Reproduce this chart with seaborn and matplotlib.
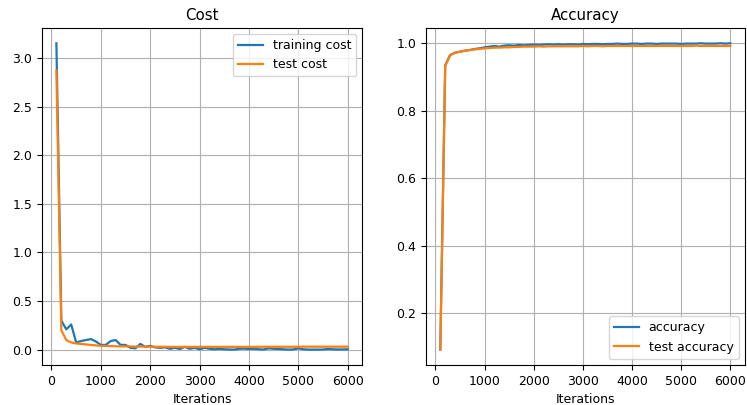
import matplotlib
matplotlib.use("Agg")
import matplotlib.pyplot as plt
import seaborn as sns

iterations = list(range(100, 6001, 100))

training_cost = [3.15, 0.30, 0.21, 0.26, 0.075, 0.09, 0.10, 0.11, 0.085, 0.05,
                 0.05, 0.09, 0.10, 0.05, 0.05, 0.02, 0.015, 0.06, 0.03, 0.04,
                 0.025, 0.02, 0.025, 0.01, 0.02, 0.008, 0.03, 0.01, 0.02, 0.005,
                 0.02, 0.01, 0.005, 0.01, 0.005, 0.003, 0.002, 0.01, 0.012, 0.008,
                 0.01, 0.005, 0.003, 0.015, 0.01, 0.008, 0.005, 0.002, 0.004, 0.015,
                 0.005, 0.002, 0.002, 0.002, 0.003, 0.008, 0.005, 0.003, 0.004, 0.005]

test_cost = [2.87, 0.20, 0.10, 0.075, 0.065, 0.06, 0.055, 0.05, 0.045, 0.04,
             0.04, 0.038, 0.036, 0.035, 0.035, 0.034, 0.033, 0.033, 0.032, 0.032,
             0.031, 0.031, 0.031, 0.030, 0.030, 0.030, 0.030, 0.030, 0.030, 0.030,
             0.030, 0.030, 0.030, 0.030, 0.030, 0.030, 0.030, 0.030, 0.030, 0.030,
             0.030, 0.031, 0.031, 0.031, 0.031, 0.031, 0.031, 0.031, 0.031, 0.031,
             0.032, 0.032, 0.032, 0.032, 0.032, 0.032, 0.032, 0.032, 0.032, 0.032]

accuracy = [0.093, 0.935, 0.965, 0.972, 0.975, 0.978, 0.980, 0.983, 0.985, 0.988,
            0.990, 0.992, 0.990, 0.993, 0.994, 0.993, 0.995, 0.994, 0.995, 0.996,
            0.995, 0.996, 0.997, 0.996, 0.997, 0.996, 0.997, 0.997, 0.996, 0.998,
            0.997, 0.998, 0.998, 0.997, 0.998, 0.998, 0.999, 0.998, 0.998, 0.999,
            0.999, 0.998, 0.999, 0.999, 0.998, 0.999, 0.999, 0.999, 0.999, 0.998,
            0.999, 0.999, 0.999, 1.000, 0.999, 0.999, 0.999, 1.000, 0.999, 1.000]

test_accuracy = [0.093, 0.932, 0.965, 0.972, 0.975, 0.978, 0.980, 0.982, 0.983, 0.985,
                 0.986, 0.987, 0.987, 0.988, 0.988, 0.989, 0.989, 0.990, 0.990, 0.990,
                 0.991, 0.990, 0.991, 0.991, 0.991, 0.991, 0.991, 0.991, 0.991, 0.992,
                 0.991, 0.992, 0.992, 0.991, 0.992, 0.992, 0.992, 0.992, 0.992, 0.992,
                 0.992, 0.992, 0.992, 0.992, 0.992, 0.992, 0.992, 0.992, 0.992, 0.992,
                 0.992, 0.992, 0.993, 0.992, 0.992, 0.992, 0.992, 0.992, 0.992, 0.992]

plt.rcParams["font.family"] = ["DejaVu Sans"]
plt.rcParams["font.size"] = 9

fig = plt.figure(figsize=(7.47, 4.05), dpi=100)
ax1 = fig.add_axes([0.056, 0.099, 0.429, 0.832])
ax2 = fig.add_axes([0.570, 0.099, 0.427, 0.832])

blue, orange = "#1f77b4", "#ff7f0e"

sns.lineplot(x=iterations, y=training_cost, ax=ax1, color=blue, label="training cost", linewidth=1.6)
sns.lineplot(x=iterations, y=test_cost, ax=ax1, color=orange, label="test cost", linewidth=1.6)
ax1.set_title("Cost", fontsize=10.8)
ax1.set_xlabel("Iterations")
ax1.grid(True, color="#b0b0b0", linewidth=0.8)
ax1.legend(loc="upper right")
ax1.set_xticks(range(0, 6001, 1000))

sns.lineplot(x=iterations, y=accuracy, ax=ax2, color=blue, label="accuracy", linewidth=1.6)
sns.lineplot(x=iterations, y=test_accuracy, ax=ax2, color=orange, label="test accuracy", linewidth=1.6)
ax2.set_title("Accuracy", fontsize=10.8)
ax2.set_xlabel("Iterations")
ax2.grid(True, color="#b0b0b0", linewidth=0.8)
ax2.legend(loc="lower right")
ax2.set_xticks(range(0, 6001, 1000))

fig.savefig("out.png", dpi=100)
